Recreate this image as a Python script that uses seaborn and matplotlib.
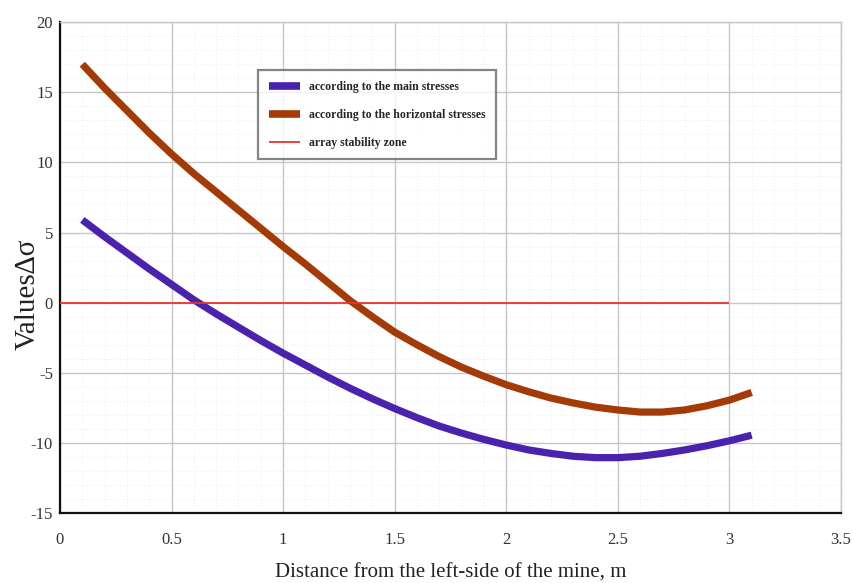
import matplotlib
matplotlib.use("Agg")
import matplotlib.pyplot as plt
import seaborn as sns
import pandas as pd
from matplotlib.ticker import MultipleLocator

x_vals = [0.1, 0.2, 0.3, 0.4, 0.5, 0.6, 0.7, 0.8, 0.9, 1.0, 1.1, 1.2, 1.3, 1.4, 1.5, 1.6,
          1.7, 1.8, 1.9, 2.0, 2.1, 2.2, 2.3, 2.4, 2.5, 2.6, 2.7, 2.8, 2.9, 3.0, 3.1]
main_stress = [5.9, 4.7, 3.55, 2.4, 1.3, 0.2, -0.8, -1.75, -2.7, -3.6, -4.45, -5.3, -6.1, -6.85,
               -7.55, -8.2, -8.8, -9.3, -9.75, -10.15, -10.5, -10.75, -10.95, -11.05, -11.05,
               -10.95, -10.75, -10.5, -10.2, -9.85, -9.45]
horiz_stress = [17.0, 15.3, 13.7, 12.1, 10.6, 9.2, 7.9, 6.6, 5.3, 4.0, 2.75, 1.45, 0.15, -1.0,
                -2.1, -3.0, -3.85, -4.6, -5.25, -5.85, -6.35, -6.8, -7.15, -7.45, -7.65, -7.8,
                -7.8, -7.65, -7.35, -6.95, -6.4]
zone_x = [0.0, 3.0]
zone_y = [0.0, 0.0]

labels = ["according to the main stresses",
          "according to the horizontal stresses",
          "array stability zone"]
colors = ["#4a22ad", "#a43b06", "#e8342c"]

df = pd.concat([
    pd.DataFrame({"x": x_vals, "y": main_stress, "series": labels[0]}),
    pd.DataFrame({"x": x_vals, "y": horiz_stress, "series": labels[1]}),
    pd.DataFrame({"x": zone_x, "y": zone_y, "series": labels[2]}),
])

sns.set_theme(style="white")
plt.rcParams['font.family'] = ['Liberation Serif', 'DejaVu Serif']

fig = plt.figure(figsize=(8.52, 5.83), dpi=100)
ax = fig.add_axes([0.0704, 0.120, 0.9166, 0.842])

ax.grid(True, which="major", color="#c6c6c6", linewidth=1.0, zorder=0)
ax.grid(True, which="minor", color="#e4e4e4", linewidth=0.6, linestyle=(0, (1, 3)), zorder=0)

sns.lineplot(data=df, x="x", y="y", hue="series", palette=colors,
             hue_order=labels, ax=ax, sort=False, legend=False, zorder=3)
lines = ax.get_lines()
for ln, lw in zip(lines, [5.2, 5.2, 1.3]):
    ln.set_linewidth(lw)
    ln.set_solid_capstyle("butt")
    ln.set_solid_joinstyle("round")

ax.set_xlim(0, 3.5)
ax.set_ylim(-15, 20)
ax.xaxis.set_minor_locator(MultipleLocator(0.1))
ax.yaxis.set_minor_locator(MultipleLocator(1))
ax.set_xticks([0, 0.5, 1, 1.5, 2, 2.5, 3, 3.5])
ax.set_xticklabels(["0", "0.5", "1", "1.5", "2", "2.5", "3", "3.5"])
ax.set_yticks([-15, -10, -5, 0, 5, 10, 15, 20])
ax.set_yticklabels(["-15", "-10", "-5", "0", "5", "10", "15", "20"])

ax.tick_params(axis="both", which="major", direction="in", length=7, width=1.5,
               color="#222222", labelsize=12, labelcolor="#333333")
ax.tick_params(axis="x", which="major", pad=14)
ax.tick_params(axis="y", which="major", pad=5)
ax.tick_params(which="minor", length=0)

for s in ["left", "bottom"]:
    ax.spines[s].set_color("#111111")
    ax.spines[s].set_linewidth(1.6)
for s in ["top", "right"]:
    ax.spines[s].set_color("#c6c6c6")
    ax.spines[s].set_linewidth(1.0)

ax.set_xlabel("Distance from the left-side of the mine, m", fontsize=15, color="#222222", labelpad=11)
ax.set_ylabel("Values∆σ", fontsize=21, color="#222222")
ax.yaxis.set_label_coords(-0.025, 0.445)

leg = ax.legend(lines, labels, loc="upper left", bbox_to_anchor=(0.254, 0.902),
                prop={"family": "Liberation Serif", "weight": "bold", "size": 8.5},
                frameon=True, fancybox=False, handlelength=2.6, handletextpad=0.8,
                labelspacing=1.35, borderpad=0.9, borderaxespad=0)
leg.get_frame().set_edgecolor("#666666")
leg.get_frame().set_linewidth(1.6)
for h, lw in zip(leg.get_lines(), [5.5, 5.5, 1.3]):
    h.set_linewidth(lw)

fig.savefig("out.png", dpi=100, facecolor="white")
